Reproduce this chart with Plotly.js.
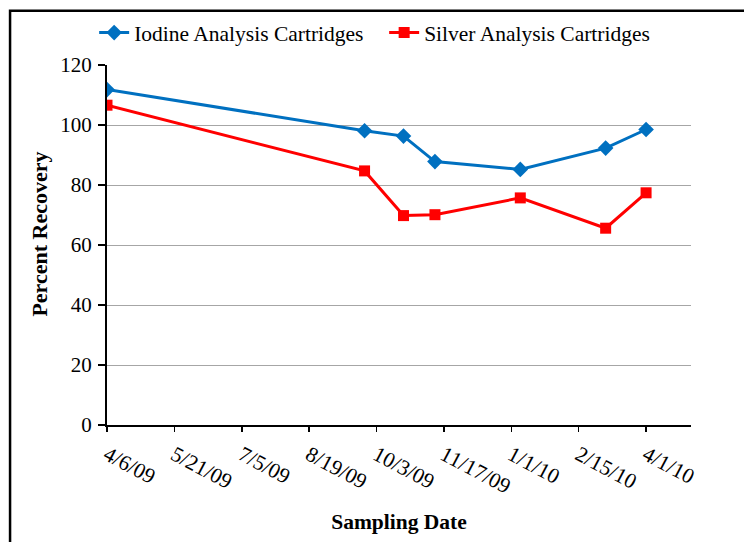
<!DOCTYPE html>
<html>
<head>
<meta charset="utf-8">
<script src="https://cdn.plot.ly/plotly-3.0.1.min.js"></script>
<style>
  html, body { margin: 0; padding: 0; background: #ffffff; }
  #chart { width: 744px; height: 542px; }
</style>
</head>
<body>
<div id="chart"></div>
<script>
const samplingDates = ['2009-04-06', '2009-09-25', '2009-10-21', '2009-11-11', '2010-01-07', '2010-03-05', '2010-04-01'];
const iodineRecovery = [111.8, 98.1, 96.3, 87.8, 85.2, 92.3, 98.5];
const silverRecovery = [106.6, 84.7, 69.8, 70.1, 75.7, 65.6, 77.4];
const xTickVals = ['2009-04-06', '2009-05-21', '2009-07-05', '2009-08-19', '2009-10-03', '2009-11-17', '2010-01-01', '2010-02-15', '2010-04-01'];
const xTickText = ['4/6/09', '5/21/09', '7/5/09', '8/19/09', '10/3/09', '11/17/09', '1/1/10', '2/15/10', '4/1/10'];
const yTickVals = [0, 20, 40, 60, 80, 100, 120];

const serif = 'Liberation Serif';

const traces = [
  {
    x: samplingDates, y: iodineRecovery, name: 'Iodine Analysis Cartridges',
    type: 'scatter', mode: 'lines+markers',
    line: { color: '#0070C0', width: 3 },
    marker: { symbol: 'diamond', size: 12, color: '#0070C0' }
  },
  {
    x: samplingDates, y: silverRecovery, name: 'Silver Analysis Cartridges',
    type: 'scatter', mode: 'lines+markers',
    line: { color: '#FF0000', width: 3 },
    marker: { symbol: 'square', size: 11, color: '#FF0000' }
  }
];

const layout = {
  width: 744, height: 542,
  margin: { l: 107, r: 53, t: 62, b: 117 },
  paper_bgcolor: '#ffffff', plot_bgcolor: '#ffffff',
  font: { family: serif, size: 20, color: '#000000' },
  showlegend: true,
  legend: {
    orientation: 'h', x: -0.022, xanchor: 'left', y: 1.09, yanchor: 'middle',
    font: { family: serif, size: 21.5, color: '#000000' },
    itemwidth: 30, tracegroupgap: 0, bgcolor: 'rgba(0,0,0,0)',
    entrywidth: 245, entrywidthmode: 'pixels'
  },
  xaxis: {
    type: 'date', range: ['2009-04-06', '2010-05-01'],
    tickmode: 'array', tickvals: xTickVals, ticktext: xTickText,
    tickangle: 28, ticks: 'outside', ticklen: 5, tickwidth: 1.5, tickcolor: '#000000',
    showline: true, linecolor: '#000000', linewidth: 2, showgrid: false, zeroline: false,
    tickfont: { family: serif, size: 21.5, color: '#000000' },
    ticklabelstandoff: 2,
    title: { text: '<b>Sampling Date</b>', font: { family: serif, size: 21.5, color: '#000000' }, standoff: 16 }
  },
  yaxis: {
    range: [0, 120], tickmode: 'array', tickvals: yTickVals,
    ticks: 'outside', ticklen: 7, tickwidth: 1.5, tickcolor: '#000000',
    showline: true, linecolor: '#000000', linewidth: 2,
    showgrid: true, gridcolor: '#a6a6a6', gridwidth: 1, zeroline: false,
    tickfont: { family: serif, size: 21, color: '#000000' },
    ticklabelstandoff: 2
  },
  annotations: [
    { text: '<b>Percent Recovery</b>', xref: 'paper', yref: 'paper',
      x: (40 - 107) / 584, y: (425 - 233) / 363, xanchor: 'center', yanchor: 'middle',
      textangle: -90, showarrow: false, font: { family: serif, size: 22, color: '#000000' } }
  ],
  shapes: [
    { type: 'rect', xref: 'paper', yref: 'paper', x0: -0.166, x1: 1.3, y0: -0.5, y1: 1.151,
      line: { color: '#000000', width: 2.5 }, fillcolor: 'rgba(0,0,0,0)', layer: 'below' }
  ]
};

Plotly.newPlot('chart', traces, layout, { displayModeBar: false, staticPlot: true });
</script>
</body>
</html>
